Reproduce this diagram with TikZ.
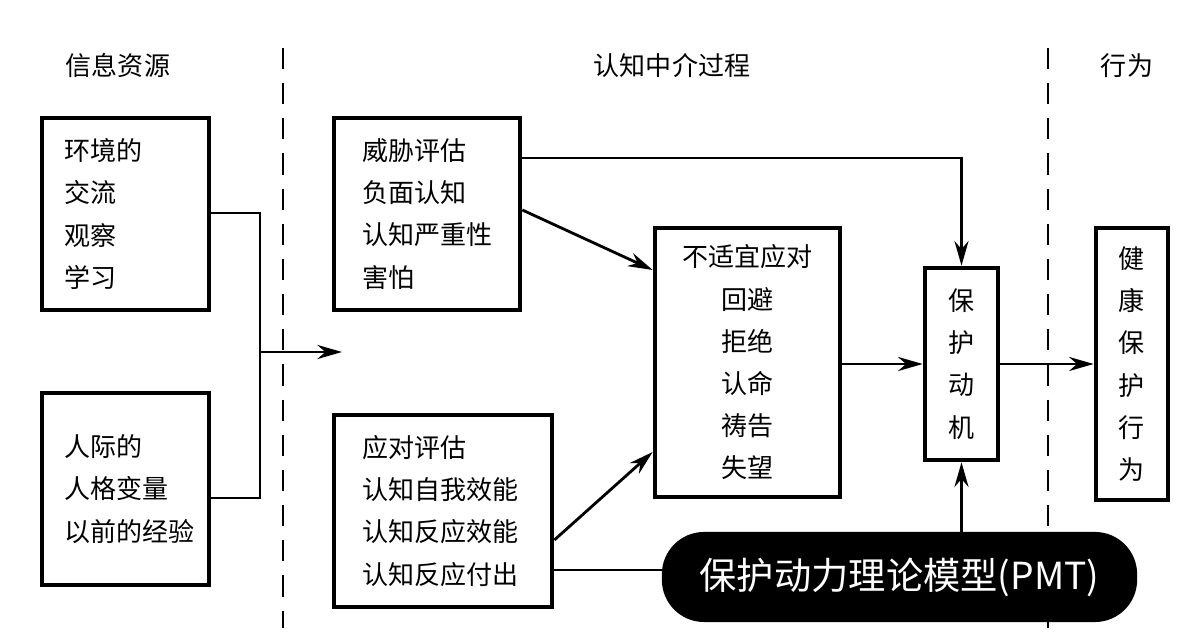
\documentclass[tikz,border=0pt]{standalone}
\usepackage{fontspec}
\setmainfont{Noto Sans CJK SC}
\usetikzlibrary{arrows.meta,positioning}

\begin{document}
\begin{tikzpicture}[x=0.01cm,y=-0.01cm,
  box/.style={draw,line width=1.3pt,inner sep=0pt,font=\fontsize{7.4pt}{12pt}\selectfont},
  head/.style={font=\fontsize{7.4pt}{12pt}\selectfont},
  arr/.style={line width=0.8pt,-{Stealth[length=7pt,width=4pt]}},
  ln/.style={line width=0.8pt}]
  \useasboundingbox (0,0) rectangle (1193,634);
% headers and dashed separators
  \node[head] (hsrc) at (118,66) {信息资源};
  \node[head] (hmid) at (672,66) {认知中介过程};
  \node[head] (hact) at (1127,66) {行为};
  \draw[ln,dash pattern=on 6pt off 4pt] (283,48) -- (283,628);
  \draw[ln,dash pattern=on 6pt off 4pt] (1048,48) -- (1048,628);
% boxes
  \node[box,minimum width=1.67cm,minimum height=1.92cm] (env) at (125.5,214) {};
  \node[align=left,head,anchor=west] at (52,214) {环境的\\交流\\观察\\学习};
  \node[box,minimum width=1.67cm,minimum height=1.92cm] (pers) at (125.5,489) {};
  \node[align=left,head,anchor=west] at (52,489) {人际的\\人格变量\\以前的经验};
  \node[box,minimum width=1.86cm,minimum height=1.92cm] (threat) at (427,214) {};
  \node[align=left,head,anchor=west] at (350,214) {威胁评估\\负面认知\\认知严重性\\害怕};
  \node[box,minimum width=2.18cm,minimum height=1.92cm] (cope) at (443,511) {};
  \node[align=left,head,anchor=west] at (350,511) {应对评估\\认知自我效能\\认知反应效能\\认知反应付出};
  \node[box,minimum width=1.85cm,minimum height=2.69cm,align=center] (bad) at (747.5,362.5) {不适宜应对\\回避\\拒绝\\认命\\祷告\\失望};
  \node[box,minimum width=0.73cm,minimum height=1.92cm,align=center] (motiv) at (961.5,364) {保\\护\\动\\机};
  \node[box,minimum width=0.72cm,minimum height=2.72cm,align=center] (behav) at (1132,364) {健\\康\\保\\护\\行\\为};
% connectors
  \coordinate (join) at (260,352);
  \coordinate (mid) at (342,352);
  \draw[ln] (env.east |- 0,213) -| (join) |- (pers.east |- 0,498);
  \draw[arr] (join) -- (mid);
  \draw[arr] (threat.east |- 0,158) -| (motiv.north);
  \draw[arr] (threat.east |- 0,210) -- (bad.west |- 0,270);
  \draw[arr] (cope.east |- 0,540) -- (bad.west |- 0,452);
  \draw[arr] (cope.east |- 0,570) -| (motiv.south);
  \draw[arr] (bad.east |- motiv) -- (motiv.west);
  \draw[arr] (motiv.east) -- (behav.west);
% caption overlay
  \node[fill=black,rounded corners=12pt,minimum width=4.75cm,minimum height=0.9cm,
        text=white,font=\fontsize{10.6pt}{12pt}\selectfont] (cap) at (899.5,577) {保护动力理论模型(PMT)};
\end{tikzpicture}
\end{document}
